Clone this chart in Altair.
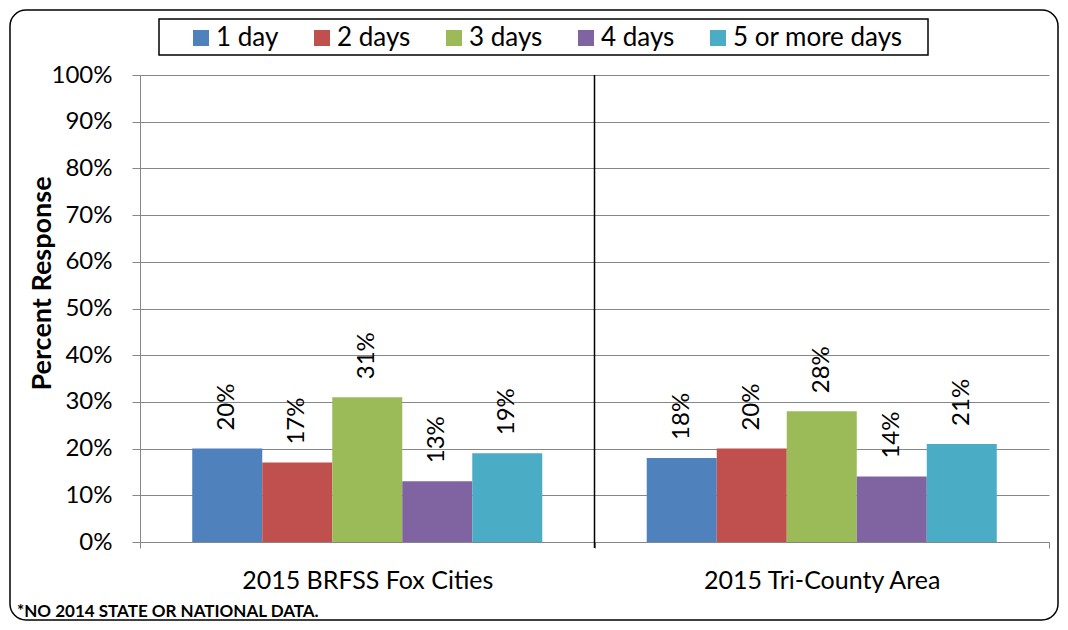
import altair as alt
import pandas as pd

groups = ["2015 BRFSS Fox Cities", "2015 Tri-County Area"]
series = ["1 day", "2 days", "3 days", "4 days", "5 or more days"]
fox_values = [20, 17, 31, 13, 19]
tri_values = [18, 20, 28, 14, 21]
colors = ["#4F81BD", "#C0504D", "#9BBB59", "#8064A2", "#4BACC6"]
y_ticks = [0, 10, 20, 30, 40, 50, 60, 70, 80, 90, 100]
footnote = "*NO 2014 STATE OR NATIONAL DATA."

rows = []
for g, vals in zip(groups, [fox_values, tri_values]):
    for s, v in zip(series, vals):
        rows.append({"group": g, "series": s, "value": v, "label": f"{v}%"})
df = pd.DataFrame(rows)

FONT = "Lato"
GRAY = "#868686"
W, H = 909, 467

x_enc = alt.X("group:N", sort=groups,
              scale=alt.Scale(paddingInner=0, paddingOuter=0),
              axis=alt.Axis(title=None, labelAngle=0, tickBand="extent",
                            domainColor=GRAY, tickColor=GRAY, tickSize=6,
                            labelFont=FONT, labelFontSize=25, labelColor="black",
                            labelPadding=20, labelLimit=0, grid=False))
xoff_enc = alt.XOffset("series:N", sort=series,
                       scale=alt.Scale(paddingInner=0, paddingOuter=0.746))
y_enc = alt.Y("value:Q", scale=alt.Scale(domain=[0, 100], nice=False),
              axis=alt.Axis(values=y_ticks, labelExpr="datum.value + '%'",
                            title="Percent Response", titleFont=FONT,
                            titleFontSize=27, titleFontWeight="bold",
                            titleColor="black", titleAngle=270,
                            titleX=-98, titleY=208, titleAlign="center",
                            titleBaseline="middle",
                            labelFont=FONT, labelFontSize=24, labelColor="black",
                            labelPadding=20, tickSize=8, tickColor=GRAY,
                            domainColor=GRAY, gridColor=GRAY, gridWidth=1))

base = alt.Chart(df)

bars = base.mark_bar().encode(
    x=x_enc,
    xOffset=xoff_enc,
    y=y_enc,
    color=alt.Color("series:N", sort=series,
                    scale=alt.Scale(domain=series, range=colors),
                    legend=alt.Legend(title=None, orient="none", direction="horizontal",
                                      legendX=48, legendY=-50,
                                      symbolType="square", symbolSize=256,
                                      symbolStrokeWidth=0, labelFont=FONT,
                                      labelFontSize=26, labelColor="black",
                                      labelLimit=0,
                                      labelOffset=2, columnPadding=30, padding=0)),
)

labels = base.mark_text(angle=270, align="left", baseline="middle", dx=18,
                        font=FONT, fontSize=24, color="black").encode(
    x=alt.X("group:N", sort=groups),
    xOffset=alt.XOffset("series:N", sort=series),
    y=alt.Y("value:Q"),
    text="label:N",
)

one = pd.DataFrame({"k": [0]})

divider = alt.Chart(one).mark_rule(color="black", strokeWidth=1.5).encode(
    x=alt.value(W / 2), y=alt.value(0), y2=alt.value(H + 6))

legend_box = alt.Chart(one).mark_rect(fillOpacity=0, stroke="black", strokeWidth=1.5,
                                      clip=False).encode(
    x=alt.value(19), x2=alt.value(788), y=alt.value(-56), y2=alt.value(-20))

outer = alt.Chart(one).mark_rect(fillOpacity=0, stroke="black", strokeWidth=1.5,
                                 cornerRadius=16, clip=False).encode(
    x=alt.value(-130), x2=alt.value(918), y=alt.value(-65), y2=alt.value(545))

note = alt.Chart(one).mark_text(align="left", baseline="middle", font=FONT,
                                fontSize=17, fontWeight="bold", color="black").encode(
    x=alt.value(-123), y=alt.value(537), text=alt.value(footnote))

chart = alt.layer(bars, labels, divider, legend_box, outer, note).properties(
    width=W, height=H,
    padding={"left": 132, "top": 67, "right": 11, "bottom": 80},
    autosize=alt.AutoSizeParams(type="none"),
).configure_view(stroke="transparent")

chart.save("out.html", embed_options={"renderer": "svg", "actions": False})
